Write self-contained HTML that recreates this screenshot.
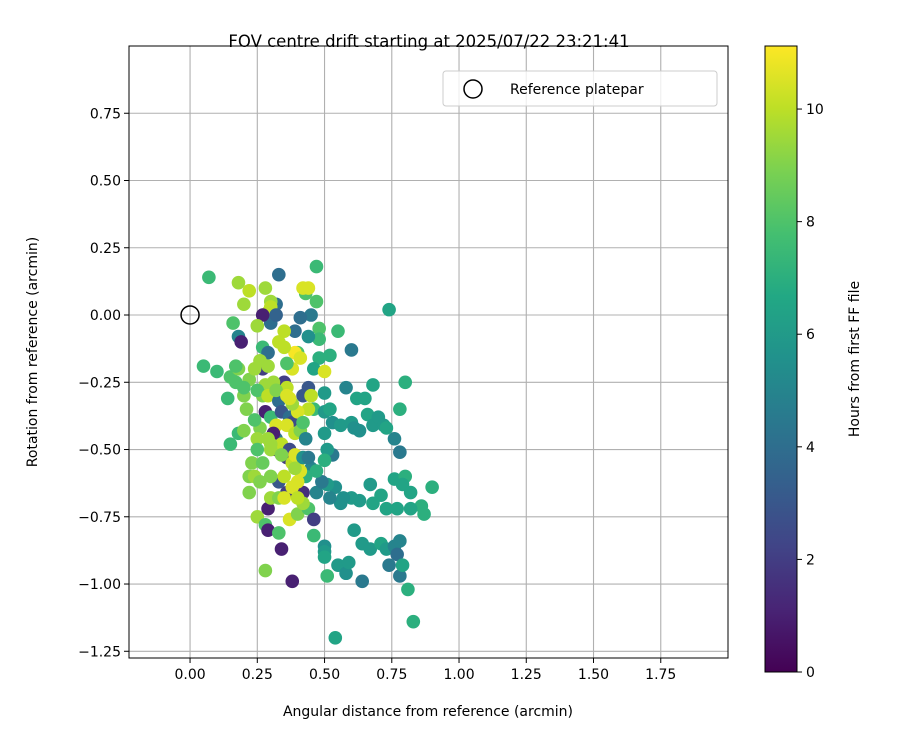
<!DOCTYPE html>
<html><head><meta charset="utf-8"><style>
body{margin:0;background:#fff;}
svg text{font-family:"DejaVu Sans","Liberation Sans",sans-serif;fill:#000;}
</style></head><body>
<svg id="chart" width="900" height="750" xmlns="http://www.w3.org/2000/svg">
<defs>
<linearGradient id="vir" x1="0" y1="1" x2="0" y2="0">
<stop offset="0" stop-color="#440154"/><stop offset="0.1" stop-color="#482475"/><stop offset="0.2" stop-color="#414487"/><stop offset="0.3" stop-color="#355f8d"/><stop offset="0.4" stop-color="#2a788e"/><stop offset="0.5" stop-color="#21918c"/><stop offset="0.6" stop-color="#22a884"/><stop offset="0.7" stop-color="#44bf70"/><stop offset="0.8" stop-color="#7ad151"/><stop offset="0.9" stop-color="#bddf26"/><stop offset="1" stop-color="#fde725"/>
</linearGradient>
<clipPath id="pc"><rect x="129" y="46" width="599" height="612"/></clipPath>
</defs>
<text x="429" y="47" font-size="16.5" text-anchor="middle">FOV centre drift starting at 2025/07/22 23:21:41</text>
<g id="grid"></g>
<g id="pts" clip-path="url(#pc)"></g>
<rect x="129" y="46" width="599" height="612" fill="none" stroke="#000" stroke-width="1"/>
<g id="axes"></g>
<text x="428" y="716" font-size="14" text-anchor="middle">Angular distance from reference (arcmin)</text>
<text transform="translate(37,352) rotate(-90)" font-size="14" text-anchor="middle">Rotation from reference (arcmin)</text>
<g>
<rect x="443" y="71" width="274" height="35" rx="3" fill="#fff" fill-opacity="0.8" stroke="#ccc"/>
<circle cx="473" cy="89" r="9" fill="none" stroke="#000" stroke-width="1.5"/>
<text x="510" y="94" font-size="14">Reference platepar</text>
</g>
<rect x="765" y="46" width="32" height="626" fill="url(#vir)" stroke="#000" stroke-width="1"/>
<g id="cbar"></g>
<text transform="translate(859,359) rotate(-90)" font-size="14" text-anchor="middle">Hours from first FF file</text>
</svg>
<script>
const xTicks=[0,0.25,0.5,0.75,1.0,1.25,1.5,1.75];
const xTickLabels=["0.00","0.25","0.50","0.75","1.00","1.25","1.50","1.75"];
const yTicks=[0.75,0.5,0.25,0,-0.25,-0.5,-0.75,-1.0,-1.25];
const yTickLabels=["0.75","0.50","0.25","0.00","\u22120.25","\u22120.50","\u22120.75","\u22121.00","\u22121.25"];
const cTicks=[0,2,4,6,8,10];
const refPoint=[0,0];
const ptsX=[0.07,0.05,0.10,0.14,0.16,0.17,0.15,0.18,0.20,0.22,0.18,0.19,0.2,0.21,0.18,0.15,0.18,0.2,0.22,0.22,0.24,0.25,0.28,0.28,0.29,0.29,0.3,0.33,0.33,0.34,0.38,0.37,0.4,0.42,0.44,0.46,0.46,0.5,0.5,0.5,0.51,0.54,0.55,0.58,0.59,0.61,0.64,0.64,0.67,0.71,0.73,0.74,0.76,0.77,0.78,0.78,0.79,0.81,0.83,
0.74,0.8,0.78,0.76,0.78,0.76,0.8,0.79,0.82,0.86,0.87,0.9,0.82,0.77,0.73,0.71,0.68,0.67,0.63,0.6,0.57,0.54,0.56,0.52,0.51,0.47,0.49,0.45,0.47,0.43,0.53,0.51,0.5,0.5,0.46,0.5,0.5,0.52,0.53,0.56,0.6,0.61,0.63,0.62,0.65,0.66,0.68,0.7,0.72,0.73,0.68,0.58,0.6,0.55,0.48,0.48,0.48,0.52,0.47,0.47,0.43,0.44,0.45,0.41,0.39,0.4,0.46,0.44,0.42,0.45,0.44,0.5,0.42,0.44,0.33,0.32,0.3,0.29,0.3,0.3,0.32,0.27,0.25,0.28,0.27,0.29,0.27,0.26,0.29,0.28,0.27,0.25,0.29,0.28,0.26,0.25,0.24,0.23,0.25,0.3,0.32,0.32,0.33,0.34,0.35,0.36,0.37,0.38,0.36,0.39,0.4,0.41,0.42,0.43,0.38,0.39,0.41,0.36,0.35,0.33,0.35,0.31,0.32,0.34,0.36,0.37,0.38,0.39,0.4,0.41,0.42,0.44,0.35,0.36,0.38,0.39,0.3,0.3,0.29,0.27,0.3,0.33,0.35,0.4,0.42,0.4,0.31,0.32,0.22,0.2,0.17,0.24,0.36,0.38,0.37,0.34,0.26];
const ptsY=[0.14,-0.19,-0.21,-0.31,-0.03,-0.25,-0.23,0.12,0.04,0.09,-0.08,-0.10,-0.3,-0.35,-0.2,-0.48,-0.44,-0.43,-0.6,-0.66,-0.6,-0.75,-0.95,-0.78,-0.72,-0.80,-0.68,-0.62,-0.81,-0.87,-0.99,-0.76,-0.74,-0.66,-0.72,-0.76,-0.82,-0.86,-0.88,-0.9,-0.97,-1.2,-0.93,-0.96,-0.92,-0.8,-0.85,-0.99,-0.87,-0.85,-0.87,-0.93,-0.86,-0.89,-0.84,-0.97,-0.93,-1.02,-1.14,
0.02,-0.25,-0.35,-0.46,-0.51,-0.61,-0.6,-0.63,-0.66,-0.71,-0.74,-0.64,-0.72,-0.72,-0.72,-0.67,-0.7,-0.63,-0.69,-0.68,-0.68,-0.64,-0.7,-0.68,-0.63,-0.66,-0.62,-0.57,-0.58,-0.6,-0.52,-0.5,-0.44,-0.54,-0.35,-0.29,-0.36,-0.35,-0.4,-0.41,-0.4,-0.42,-0.43,-0.31,-0.31,-0.37,-0.41,-0.38,-0.41,-0.42,-0.26,-0.27,-0.13,-0.06,-0.05,-0.09,-0.16,-0.15,0.05,0.18,0.08,-0.08,0.0,-0.01,-0.06,-0.14,-0.2,-0.27,-0.3,-0.3,-0.35,-0.21,0.1,0.1,0.15,0.04,0.05,0.01,0.03,-0.03,0.0,0.0,-0.04,0.1,-0.12,-0.14,-0.2,-0.17,-0.19,-0.26,-0.3,-0.28,-0.3,-0.36,-0.42,-0.46,-0.39,-0.55,-0.5,-0.38,-0.41,-0.46,-0.32,-0.36,-0.25,-0.27,-0.38,-0.4,-0.41,-0.44,-0.36,-0.43,-0.4,-0.46,-0.2,-0.14,-0.16,-0.18,-0.06,-0.1,-0.12,-0.44,-0.5,-0.48,-0.53,-0.5,-0.55,-0.52,-0.56,-0.58,-0.53,-0.53,-0.6,-0.66,-0.64,-0.57,-0.48,-0.5,-0.46,-0.55,-0.6,-0.68,-0.68,-0.62,-0.7,-0.68,-0.25,-0.28,-0.24,-0.27,-0.19,-0.2,-0.3,-0.33,-0.31,-0.52,-0.62];
const ptsH=[7.5,7.5,7.5,7.5,8,8,8,9.5,9.5,10,5,1,9,9,9,7.5,7.5,9,9,9,9.5,9.5,9,8,1,1,9.5,3,8,1,1,10.5,9,1.5,8,2,7.5,5.5,6,6.5,7.5,6.5,6,5.5,6,6,6,4.5,6,6.5,6,4.5,5,4,5,4.5,6.5,7,7,
6.5,7,7,5,4.5,6.5,7,6.5,6.5,7,7,7,6.5,6.5,6.5,6.5,6.5,6,6,6,5.5,5.5,5.5,5,6,5,4.5,5,7,7,4.5,6,6,7,7.5,6,6,6.5,5.5,6,6,5.5,5.5,6.5,6.5,6.5,6,6,6,6.5,6.5,5,4.5,7.5,8,7.5,7,7,8,7.5,8,5.5,4.5,4,4,8,6.5,3,3,10,10,10.5,10.5,10.5,4,4,9.5,10,10,4,3.5,1,9.5,9.5,7.5,4,2,9.5,9.5,9.5,9,8,10,1,9,9.5,8,9,8,7.5,10.5,4.5,4,3,2,10,4,2.5,10.5,10,10.5,9,8,5,10.5,11,10.5,8,10,10,10,1,1.5,10,2,2.5,10,10.5,10.5,10.5,5.5,4.5,10,2,10.5,9.5,9.5,9.5,9.5,8.5,9,9,10.5,10.5,9.5,10,9.5,9,9,8,8,9.5,10.5,9.5,10.5,9,9];
const NS="http://www.w3.org/2000/svg";
const X0=129,X1=728,Y0=46,Y1=658,xmin=-0.227,xmax=2.0,ymin=-1.275,ymax=1.0,cmax=11.12,CB0=672,CB1=46;
const xs=v=>X0+(v-xmin)/(xmax-xmin)*(X1-X0);
const ys=v=>Y1-(v-ymin)/(ymax-ymin)*(Y1-Y0);
const cs=v=>CB0-v/cmax*(CB0-CB1);
const vir=["#440154","#482475","#414487","#355f8d","#2a788e","#21918c","#22a884","#44bf70","#7ad151","#bddf26","#fde725"];
function col(h){let t=Math.max(0,Math.min(1,h/cmax))*10;let i=Math.min(9,Math.floor(t)),f=t-i;
const a=vir[i],b=vir[i+1];const p=(s,k)=>parseInt(s.substr(k,2),16);
let r=[1,3,5].map(k=>Math.round(p(a,k)+(p(b,k)-p(a,k))*f));return `rgb(${r.join(",")})`;}
function mk(tag,attrs,parent){const e=document.createElementNS(NS,tag);for(const k in attrs)e.setAttribute(k,attrs[k]);parent.appendChild(e);return e;}
const grid=document.getElementById('grid'),axes=document.getElementById('axes'),pts=document.getElementById('pts'),cbar=document.getElementById('cbar');
xTicks.forEach((t,i)=>{const x=xs(t);
const g=mk('line',{x1:x,x2:x,y1:Y0,y2:Y1,stroke:'#b0b0b0','stroke-width':1.1},grid);

mk('line',{x1:x,x2:x,y1:Y1,y2:Y1+5,stroke:'#000'},axes);
const l=mk('text',{x:x,y:Y1+21,'font-size':14,'text-anchor':'middle'},axes);l.textContent=xTickLabels[i];
});
yTicks.forEach((t,i)=>{const y=ys(t);
const g=mk('line',{x1:X0,x2:X1,y1:y,y2:y,stroke:'#b0b0b0','stroke-width':1.1},grid);

mk('line',{x1:X0-5,x2:X0,y1:y,y2:y,stroke:'#000'},axes);
const l=mk('text',{x:X0-8,y:y+5,'font-size':14,'text-anchor':'end'},axes);l.textContent=yTickLabels[i];
});
ptsX.forEach((v,i)=>{const c=mk('circle',{cx:xs(v),cy:ys(ptsY[i]),r:6.8,fill:col(ptsH[i])},pts);
});
const rc=mk('circle',{cx:xs(refPoint[0]),cy:ys(refPoint[1]),r:9,fill:'none',stroke:'#000','stroke-width':1.5},pts);

cTicks.forEach(t=>{const y=cs(t);mk('line',{x1:797,x2:802,y1:y,y2:y,stroke:'#000'},cbar);
const l=mk('text',{x:806,y:y+5,'font-size':14},cbar);l.textContent=t;
});
</script>
</body></html>
